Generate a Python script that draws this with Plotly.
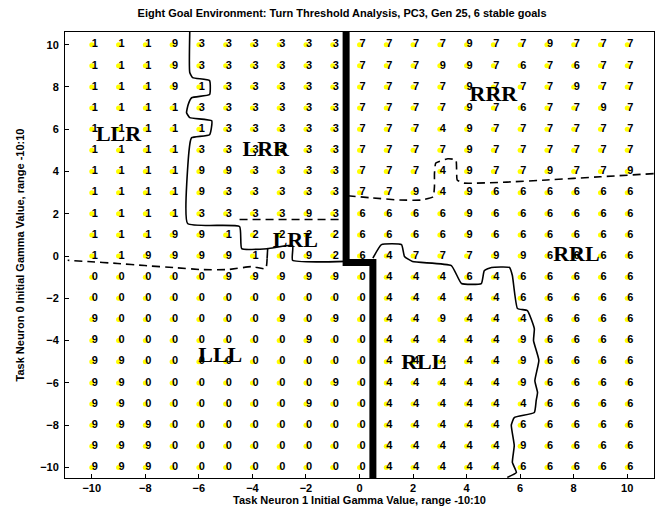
import plotly.graph_objects as go

x_vals = list(range(-10, 11))
y_vals = list(range(10, -11, -1))

row_p10 = [1,1,1,9,3,3,3,3,3,3,7,7,7,7,9,7,7,9,7,7,7]
row_p9  = [1,1,1,9,3,3,3,3,3,3,7,7,7,9,9,7,6,7,6,7,7]
row_p8  = [1,1,1,9,1,3,3,3,3,3,7,7,7,7,9,7,7,7,9,7,7]
row_p7  = [1,1,1,1,3,3,3,3,3,3,7,7,7,7,9,7,6,7,7,9,7]
row_p6  = [1,1,1,1,1,3,3,3,3,3,7,7,7,4,9,7,7,7,7,7,7]
row_p5  = [1,1,1,1,3,3,3,3,3,3,7,7,7,7,9,7,7,7,7,7,7]
row_p4  = [1,1,1,1,9,9,3,3,3,3,7,7,7,4,9,7,7,9,7,7,9]
row_p3  = [1,1,1,1,9,3,3,3,3,3,7,7,9,4,9,6,6,6,6,6,6]
row_p2  = [1,1,1,1,3,3,3,3,9,3,6,6,6,6,9,6,6,6,6,6,6]
row_p1  = [1,1,1,9,9,1,2,2,2,2,6,6,6,6,9,6,6,6,6,6,6]
row_0   = [1,1,9,9,9,9,1,0,9,2,6,4,7,7,7,9,9,6,6,6,6]
row_m1  = [0,0,0,0,0,9,9,9,9,9,0,4,4,4,6,4,6,6,6,6,6]
row_m2  = [0,0,0,0,0,0,0,0,0,0,0,4,4,4,4,4,6,6,6,6,6]
row_m3  = [9,0,0,0,0,0,0,9,0,9,0,4,4,9,4,4,4,6,6,6,6]
row_m4  = [9,0,0,0,0,0,0,0,9,0,0,4,4,4,4,4,9,6,6,6,6]
row_m5  = [9,9,0,0,0,0,0,0,0,0,0,4,4,4,4,4,9,6,6,6,6]
row_m6  = [9,9,0,0,0,0,0,0,0,9,0,4,4,4,4,4,9,6,6,6,6]
row_m7  = [9,9,0,0,0,0,0,0,9,0,0,4,4,4,4,4,4,6,6,6,6]
row_m8  = [9,9,9,0,0,0,0,0,0,0,0,4,4,4,4,4,6,6,6,6,6]
row_m9  = [9,9,9,0,0,0,0,0,0,0,0,4,4,4,4,4,9,6,6,6,6]
row_m10 = [9,9,9,0,0,0,0,0,0,0,0,4,4,4,4,4,6,6,6,6,6]
grid_rows = [row_p10,row_p9,row_p8,row_p7,row_p6,row_p5,row_p4,row_p3,row_p2,row_p1,
             row_0,row_m1,row_m2,row_m3,row_m4,row_m5,row_m6,row_m7,row_m8,row_m9,row_m10]

# thick divider
thick_x = [-0.5, -0.5, 0.5, 0.5]
thick_y = [10.6, -0.3, -0.3, -10.5]

# solid boundary LLR/LRR/LRL
b1_x = [-6.34,-6.34,-6.23,-5.6,-5.6,-6.27,-6.4,-6.46,-6.34,-5.52,-5.6,-6.27,-6.34,-6.42,-4.48,-4.4,-3.43,-2.5,-2.5,-0.5]
b1_y = [10.6,8.68,8.44,8.3,7.64,7.49,7.16,6.78,6.55,6.4,5.74,5.6,5.27,1.54,1.4,0.35,0.35,0.5,-0.2,-0.25]
# short solid stub
b2_x = [-3.43,-3.45]
b2_y = [0.35,-0.1]
# dashed left boundary
d1_x = [-3.45,-3.5,-4.03,-4.93,-5.9,-6.9,-8.02,-9.03,-10.15,-10.9]
d1_y = [-0.1,-0.6,-0.5,-0.64,-0.64,-0.55,-0.45,-0.35,-0.26,-0.2]
# dashed LRR/LRL
d2_x = [-4.48,-0.5]
d2_y = [1.73,1.73]
# dashed right boundary
d3_x = [-0.45,0.5,1.5,2.3,2.75,2.8,2.8,2.85,3.3,3.6,3.65,3.9,5.5,7,9,11]
d3_y = [2.85,2.75,2.65,2.65,2.8,3.3,3.9,4.4,4.6,4.55,3.6,3.45,3.5,3.6,3.75,3.9]
# solid RRL/RLL boundary
b3_x = [0.5,0.82,1.57,1.68,1.98,3.43,3.81,4.55,4.66,4.93,5.6,5.71,5.9,6.27,6.53,6.5,6.7,6.55,6.65,6.6,6.53,5.78,5.67,5.78,5.71,5.86,5.52]
b3_y = [-0.1,0.54,0.54,-0.02,-0.26,-0.45,-1.3,-1.3,-0.69,-0.54,-0.54,-0.92,-2.48,-2.58,-3.43,-4.0,-4.94,-5.9,-6.45,-6.83,-7.4,-7.64,-8.0,-8.96,-9.76,-10.24,-10.47]

region_names = ["LLR", "LRR", "LRL", "RRR", "RRL", "LLL", "RLL"]
region_x = [-9.0, -3.5, -2.4, 5.0, 8.1, -5.2, 2.4]
region_y = [5.7, 5.0, 0.7, 7.6, 0.05, -4.75, -5.1]

xs, ys, ts = [], [], []
for yi, row in zip(y_vals, grid_rows):
    for xi, v in zip(x_vals, row):
        xs.append(xi); ys.append(yi); ts.append(str(v))

fig = go.Figure()
fig.add_trace(go.Scatter(x=xs, y=ys, mode="markers",
                         marker=dict(color="#FFFF00", size=5, line=dict(width=0)),
                         hoverinfo="skip"))
fig.add_trace(go.Scatter(x=xs, y=ys, mode="text", text=ts, textposition="middle right",
                         marker=dict(size=1),
                         textfont=dict(family="Liberation Sans, Arial", size=11, color="black", weight="bold"),
                         hoverinfo="skip"))
for lx, ly, dash in [(b1_x, b1_y, "solid"), (b2_x, b2_y, "solid"), (b3_x, b3_y, "solid"),
                     (d1_x, d1_y, "8px,5px"), (d2_x, d2_y, "8px,5px"), (d3_x, d3_y, "8px,5px")]:
    fig.add_trace(go.Scatter(x=lx, y=ly, mode="lines",
                             line=dict(color="black", width=1.6, dash=dash, shape="spline", smoothing=0.4),
                             hoverinfo="skip"))
fig.add_trace(go.Scatter(x=thick_x, y=thick_y, mode="lines",
                         line=dict(color="black", width=7), hoverinfo="skip"))
fig.add_trace(go.Scatter(x=region_x, y=region_y, mode="text", text=region_names,
                         textposition="middle center",
                         textfont=dict(family="Liberation Serif, Times New Roman", size=22, color="black", weight="bold"),
                         hoverinfo="skip"))

axis_font = dict(family="Liberation Sans, Arial", size=11, color="black", weight="bold")
# page body adds an 8px offset, so the figure is 8px smaller and margins compensate
fig.update_layout(
    width=655, height=521,
    margin=dict(l=57, r=9, t=24, b=51),
    paper_bgcolor="white", plot_bgcolor="white",
    showlegend=False,
    title=dict(text="Eight Goal Environment: Turn Threshold Analysis, PC3, Gen 25, 6 stable goals",
               x=0.51, xanchor="center", y=0.991, yanchor="middle",
               font=dict(family="Liberation Sans, Arial", size=11, color="black", weight="bold")),
    xaxis=dict(range=[-11, 11], tickvals=list(range(-10, 11, 2)), showgrid=False, zeroline=False,
               showline=True, mirror=True, linecolor="black", linewidth=1, automargin=False,
               ticks="inside", ticklen=4, tickcolor="black", tickfont=axis_font,
               title=dict(text="Task Neuron 1 Initial Gamma Value, range -10:10", font=axis_font, standoff=0)),
    yaxis=dict(range=[-10.5, 10.6], tickvals=list(range(-10, 11, 2)), showgrid=False, zeroline=False,
               showline=True, mirror=True, linecolor="black", linewidth=1, automargin=False,
               ticks="inside", ticklen=4, tickcolor="black", tickfont=axis_font, ticklabelstandoff=3,
               title=dict(text="Task Neuron 0 Initial Gamma Value, range -10:10", font=axis_font, standoff=13)),
)
fig.write_html("out.html")
